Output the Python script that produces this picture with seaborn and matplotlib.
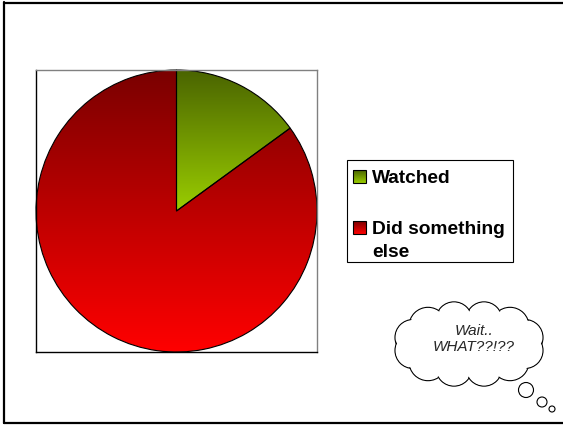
import numpy as np
import matplotlib.pyplot as plt
import matplotlib.patches as mpatches
import seaborn as sns

labels = ["Watched", "Did something\nelse"]
values = [15, 85]
top_colors = ["#4a6400", "#7a0000"]
bottom_colors = ["#9acd00", "#ff0000"]
bubble_text = "Wait..\nWHAT??!??"

sns.set_theme(style="white")
plt.rcParams['font.family'] = ['Liberation Sans', 'DejaVu Sans']

W, H = 563, 426
fig = plt.figure(figsize=(W / 100, H / 100), dpi=100)
fig.patch.set_facecolor("white")

# pie with a vertical gradient per slice
ax = fig.add_axes([36 / W, 1 - 352 / H, 281 / W, 282 / H])
wedges, _ = ax.pie(values, startangle=90, counterclock=False, radius=1, frame=True,
                   wedgeprops=dict(facecolor="none", edgecolor="black", linewidth=0.8))
grad = np.linspace(0, 1, 256).reshape(-1, 1)
for w, c0, c1 in zip(wedges, top_colors, bottom_colors):
    cmap = sns.blend_palette([c1, c0], as_cmap=True)
    b = w.get_path().get_extents()
    im = ax.imshow(grad, cmap=cmap, origin="lower", extent=(b.x0, b.x1, b.y0, b.y1),
                   aspect="auto", zorder=0)
    im.set_clip_path(w)
ax.set_xlim(-1, 1)
ax.set_ylim(-1, 1)
ax.set_xticks([])
ax.set_yticks([])
ax.set_facecolor("white")
for side in ["top", "right"]:
    ax.spines[side].set_color("#808080")
for side in ["left", "bottom"]:
    ax.spines[side].set_color("black")
for s in ax.spines.values():
    s.set_linewidth(1)
    s.set_visible(True)

# overlay in pixel coordinates for legend, bubble and outer frame
ov = fig.add_axes([0, 0, 1, 1], zorder=3)
ov.set_axis_off()
ov.patch.set_alpha(0)

ov.add_patch(mpatches.Rectangle((347, 160), 166, 102, facecolor="white",
                                edgecolor="black", linewidth=0.8))
marker_y = [170, 221]
for lab, c0, c1, my in zip(labels, top_colors, bottom_colors, marker_y):
    cmap = sns.blend_palette([c0, c1], as_cmap=True)
    ov.imshow(grad, cmap=cmap, origin="upper", extent=(353, 366, my + 13, my),
              aspect="auto", zorder=4)
    ov.add_patch(mpatches.Rectangle((353, my), 13, 13, facecolor="none",
                                    edgecolor="black", linewidth=0.8, zorder=5))
    ov.text(372, my, lab, fontsize=13.8, fontweight="bold", color="black",
            va="top", ha="left", linespacing=1.45, zorder=5)

# thought bubble
cx, cy, a, b = 469, 344, 58, 25
ang = np.deg2rad(np.arange(15, 360, 30))
radii = [18, 19, 18, 18, 19, 18, 18, 19, 18, 18, 19, 18]
for t, r in zip(ang, radii):
    x, y = cx + a * np.cos(t), cy - b * np.sin(t)
    ov.add_patch(mpatches.Circle((x, y), r, facecolor="white", edgecolor="black",
                                 linewidth=0.8, zorder=1))
    ov.add_patch(mpatches.Circle((x, y), r - 1, facecolor="white", edgecolor="none",
                                 zorder=2))
ov.add_patch(mpatches.Ellipse((cx, cy), 2 * a, 2 * b, facecolor="white",
                              edgecolor="none", zorder=2))
ov.text(474, 339, bubble_text, fontsize=11, fontstyle="italic", ha="center",
        va="center", linespacing=1.2, zorder=3)
for (x, y, r) in [(526, 390, 7.5), (542, 402, 5), (552, 409, 3)]:
    ov.add_patch(mpatches.Circle((x, y), r, facecolor="white", edgecolor="black",
                                 linewidth=0.8, zorder=2))

# outer frame
ov.plot([4, 4], [2, 423], color="black", linewidth=1.6)
ov.plot([4, W], [2.5, 2.5], color="black", linewidth=1.6)
ov.plot([4, W], [422.5, 422.5], color="black", linewidth=1.6)

ov.set_xlim(0, W)
ov.set_ylim(H, 0)

fig.savefig("out.png", dpi=100)
